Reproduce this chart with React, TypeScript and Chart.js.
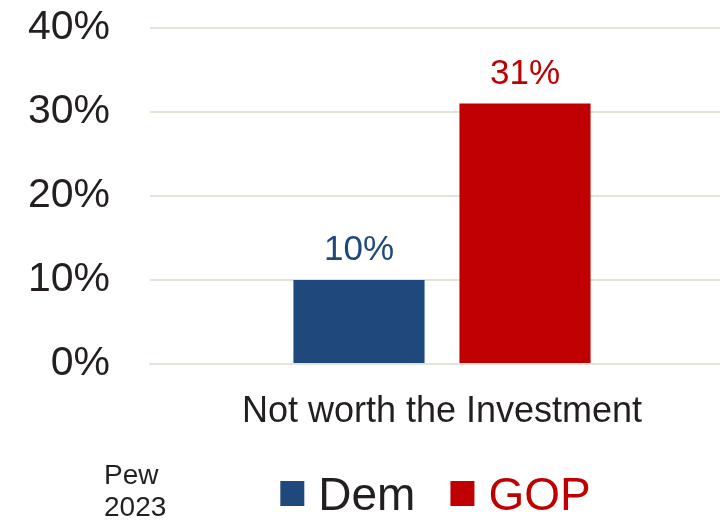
import React, { useEffect, useRef } from "react";
import { Chart, registerables } from "chart.js";

Chart.register(...registerables);

const categories = ["Not worth the Investment"];
const seriesNames = ["Dem", "GOP"];
const demValues = [10];
const gopValues = [31];
const seriesColors = ["#1f497d", "#c00000"];
const legendTextColors = ["#231f20", "#c00000"];
const yTicks = [0, 10, 20, 30, 40];
const sourceLines = ["Pew", "2023"];

const FONT = "'Liberation Sans', Arial, sans-serif";

const dataLabelPlugin = {
  id: "dataLabels",
  afterDatasetsDraw(chart: any) {
    const ctx = chart.ctx;
    ctx.save();
    ctx.font = `35px ${FONT}`;
    ctx.textAlign = "center";
    ctx.textBaseline = "alphabetic";
    chart.data.datasets.forEach((ds: any, i: number) => {
      const meta = chart.getDatasetMeta(i);
      meta.data.forEach((bar: any, j: number) => {
        ctx.fillStyle = seriesColors[i];
        ctx.fillText(`${ds.data[j]}%`, bar.x, bar.y - 20);
      });
    });
    ctx.restore();
  },
};

const legendPlugin = {
  id: "customLegend",
  afterDraw(chart: any) {
    const ctx = chart.ctx;
    ctx.save();
    // source note
    ctx.font = `28px ${FONT}`;
    ctx.fillStyle = "#231f20";
    ctx.textAlign = "left";
    ctx.textBaseline = "alphabetic";
    ctx.fillText(sourceLines[0], 104, 484);
    ctx.fillText(sourceLines[1], 104, 516);

    ctx.font = `46px ${FONT}`;
    const box = 24;
    const gapText = 14;
    const gapItem = 35;
    const items = chart.data.datasets.map((ds: any, i: number) => ({
      label: ds.label,
      color: ds.backgroundColor,
      textColor: legendTextColors[i],
      w: ctx.measureText(ds.label).width,
    }));
    const total =
      items.reduce((s: number, it: any) => s + box + gapText + it.w, 0) +
      gapItem * (items.length - 1);
    let x = 435.5 - total / 2;
    const baseline = 510;
    items.forEach((it: any) => {
      ctx.fillStyle = it.color;
      ctx.fillRect(x, 481, box, 25);
      x += box + gapText;
      ctx.fillStyle = it.textColor;
      ctx.fillText(it.label, x, baseline);
      x += it.w + gapItem;
    });
    ctx.restore();
  },
};

export default function App() {
  const ref = useRef<HTMLCanvasElement | null>(null);

  useEffect(() => {
    if (!ref.current) return;
    const chart = new Chart(ref.current, {
      type: "bar",
      data: {
        labels: categories,
        datasets: [
          {
            label: seriesNames[0],
            data: demValues,
            backgroundColor: seriesColors[0],
            categoryPercentage: 0.5685,
            barPercentage: 0.79,
          },
          {
            label: seriesNames[1],
            data: gopValues,
            backgroundColor: seriesColors[1],
            categoryPercentage: 0.5685,
            barPercentage: 0.79,
          },
        ],
      },
      options: {
        responsive: false,
        animation: false,
        devicePixelRatio: 1,
        layout: { padding: { left: 0, top: 28, right: 0, bottom: 77 } },
        plugins: {
          legend: { display: false },
          tooltip: { enabled: false },
        },
        scales: {
          x: {
            grid: { display: false, drawTicks: false },
            border: { display: true, color: "#e6e2d6", width: 2 },
            ticks: {
              font: { family: FONT, size: 36 },
              color: "#231f20",
              padding: 26,
            },
            afterFit(scale: any) {
              scale.height = 80;
              scale.paddingLeft = 0;
              scale.paddingRight = 0;
            },
          },
          y: {
            min: 0,
            max: 40,
            afterBuildTicks(scale: any) {
              scale.ticks = yTicks.map((v) => ({ value: v }));
            },
            grid: {
              color: "#e6e2d6",
              lineWidth: 2,
              drawTicks: false,
            },
            border: { display: false },
            ticks: {
              font: { family: FONT, size: 41 },
              color: "#231f20",
              padding: 40,
              callback: (v: any) => `${v}%`,
            },
            afterFit(scale: any) {
              scale.width = 150;
              scale.paddingTop = 0;
              scale.paddingBottom = 0;
            },
          },
        },
      },
      plugins: [dataLabelPlugin, legendPlugin],
    });
    return () => chart.destroy();
  }, []);

  return (
    <div
      style={{
        position: "absolute",
        left: 0,
        top: 0,
        width: 720,
        height: 521,
        overflow: "hidden",
        background: "#ffffff",
      }}
    >
      <canvas ref={ref} width={734} height={521} style={{ display: "block" }} />
    </div>
  );
}
